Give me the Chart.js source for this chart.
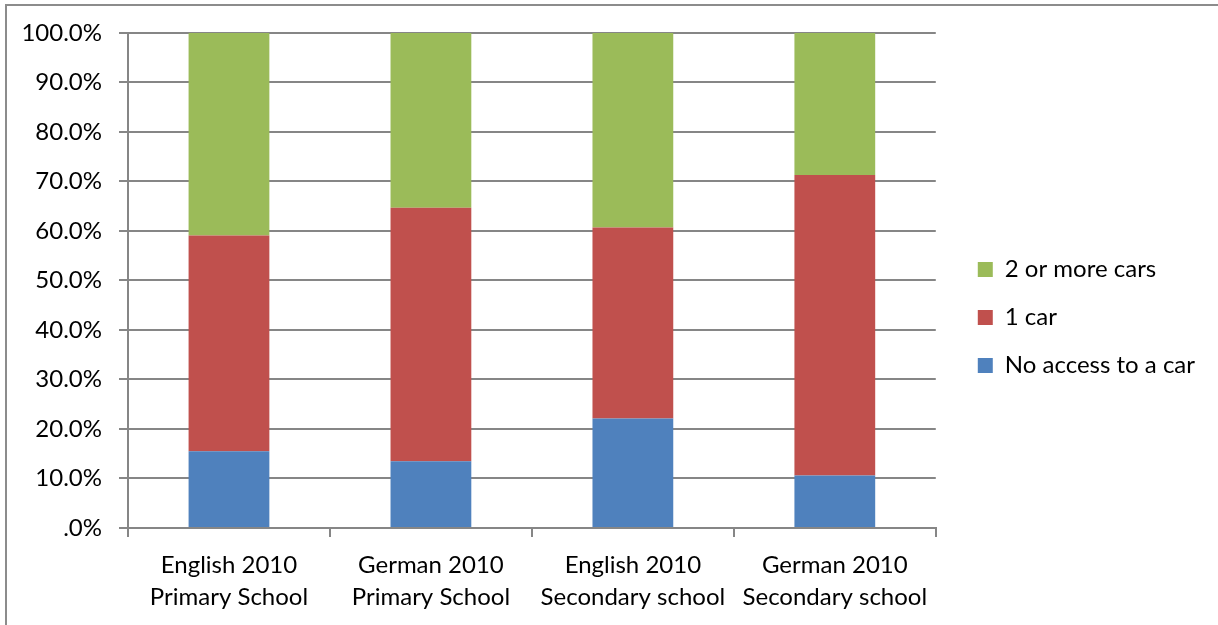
<!DOCTYPE html>
<html>
<head>
<meta charset="utf-8">
<script src="https://cdn.jsdelivr.net/npm/chart.js@4/dist/chart.umd.min.js"></script>
<style>
  html, body { margin: 0; padding: 0; background: #fff; }
  #wrap { position: relative; width: 1218px; height: 625px; }
  #frame { position: absolute; left: 5px; top: 4px; right: -10px; bottom: -10px;
           border-top: 2px solid #8c8c8c; border-left: 2px solid #8c8c8c; }
  canvas { position: absolute; left: 0; top: 0; }
</style>
</head>
<body>
<div id="wrap">
  <div id="frame"></div>
  <canvas id="myChart" width="1218" height="625"></canvas>
</div>
<script>
(() => {
  'use strict'

  // Data
  const categories = [
    ['English 2010', 'Primary School'],
    ['German 2010', 'Primary School'],
    ['English 2010', 'Secondary school'],
    ['German 2010', 'Secondary school']
  ]
  const noAccess = [15.5, 13.5, 22.1, 10.6]
  const oneCar = [43.6, 51.2, 38.6, 60.7]
  const twoOrMore = [40.9, 35.3, 39.3, 28.7]
  const yTicks = [0, 10, 20, 30, 40, 50, 60, 70, 80, 90, 100]

  const font = { family: 'Lato', size: 24, lineHeight: 1.333 }
  const axisGrey = '#868686'

  // nudge the legend, like the original
  const legendShift = {
    id: 'legendShift',
    afterLayout (chart) {
      chart.legend.left += 18
      chart.legend.right += 18
      chart.legend.top += 3
      chart.legend.bottom += 3
    }
  }

  const ctx = document.getElementById('myChart')
  // eslint-disable-next-line no-unused-vars
  const myChart = new Chart(ctx, {
    type: 'bar',
    data: {
      labels: categories,
      datasets: [{
        label: 'No access to a car',
        data: noAccess,
        backgroundColor: '#4F81BD'
      },
      {
        label: '1 car',
        data: oneCar,
        backgroundColor: '#C0504D'
      },
      {
        label: '2 or more cars',
        data: twoOrMore,
        backgroundColor: '#9BBB59'
      }]
    },
    options: {
      responsive: false,
      animation: false,
      barPercentage: 0.4,
      categoryPercentage: 1,
      layout: {
        padding: { top: 18, left: 20, right: 31, bottom: 14 }
      },
      scales: {
        x: {
          stacked: true,
          afterFit: (scale) => { scale.height = 83 },
          grid: {
            offset: true,
            drawOnChartArea: false,
            drawTicks: true,
            tickLength: 9,
            color: axisGrey,
            lineWidth: 2
          },
          border: { color: axisGrey, width: 2 },
          ticks: {
            color: '#000',
            font: font,
            padding: 12,
            maxRotation: 0,
            autoSkip: false
          }
        },
        y: {
          stacked: true,
          min: 0,
          max: 100,
          afterFit: (scale) => { scale.width = 108 },
          afterBuildTicks: (scale) => {
            scale.ticks = yTicks.map(v => ({ value: v }))
          },
          grid: {
            color: axisGrey,
            lineWidth: 2,
            tickLength: 9
          },
          border: { color: axisGrey, width: 2 },
          ticks: {
            color: '#000',
            font: font,
            padding: 17,
            callback: (v) => v === 0 ? '.0%' : v.toFixed(1) + '%'
          }
        }
      },
      plugins: {
        legend: {
          position: 'right',
          reverse: true,
          labels: {
            color: '#000',
            font: font,
            boxWidth: 15,
            boxHeight: 15,
            padding: 24
          }
        },
        tooltip: { enabled: false }
      }
    },
    plugins: [legendShift]
  })
})()
</script>
</body>
</html>
